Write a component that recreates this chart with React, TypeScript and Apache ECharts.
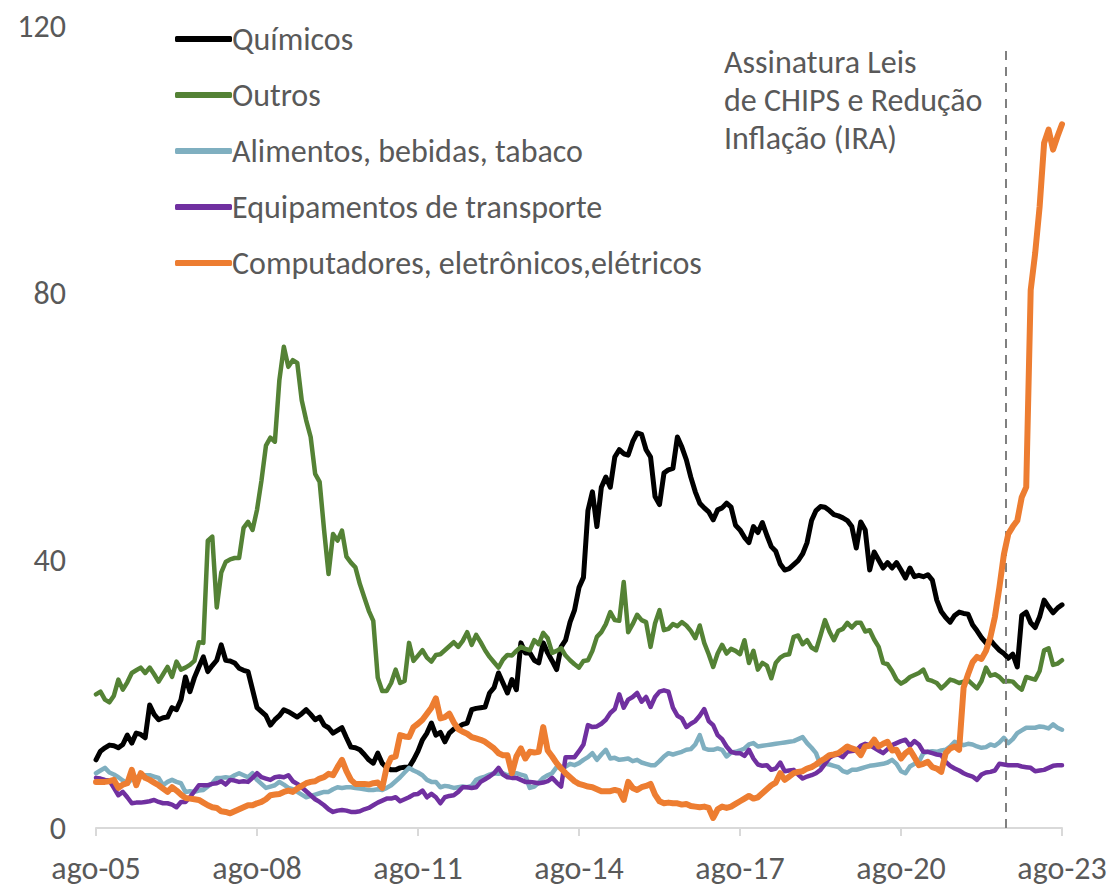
import React, { useEffect, useRef } from "react";
import * as echarts from "echarts";

// Month index 0 = ago-05 ... 216 = ago-23 (monthly)
const tickLabels = ["ago-05", "ago-08", "ago-11", "ago-14", "ago-17", "ago-20", "ago-23"];
const seriesNames = [
  "Químicos",
  "Outros",
  "Alimentos, bebidas, tabaco",
  "Equipamentos de transporte",
  "Computadores, eletrônicos,elétricos",
];

const quimicos = [
  10.2, 11.5, 12.0, 12.4, 12.3, 12.0, 12.5, 13.9, 12.7, 14.2, 14.0, 13.5,
  18.4, 17.0, 16.2, 16.5, 16.6, 18.0, 17.7, 19.2, 22.6, 20.4, 22.5, 24.1,
  25.6, 23.4, 24.3, 25.1, 27.4, 25.1, 25.0, 24.7, 23.9, 23.6, 23.4, 20.7,
  18.0, 17.4, 16.8, 15.4, 16.2, 16.8, 17.7, 17.4, 17.0, 16.6, 17.1, 17.7,
  17.0, 16.2, 16.6, 15.4, 15.0, 14.2, 14.6, 15.0, 13.5, 12.1, 12.0, 11.7,
  11.0, 10.2, 9.7, 11.2, 9.7, 9.0, 8.7, 8.7, 9.0, 9.1, 9.1, 10.2,
  11.5, 13.2, 14.2, 15.7, 13.9, 14.3, 12.9, 14.2, 14.8, 15.1, 15.5, 15.7,
  17.7, 17.9, 18.0, 18.1, 20.2, 21.0, 23.2, 21.7, 20.2, 22.2, 20.7, 27.7,
  26.2, 26.2, 25.1, 24.7, 27.7, 26.2, 25.0, 23.7, 27.1, 28.1, 30.8, 32.6,
  36.0, 37.5, 47.5, 50.3, 45.1, 51.0, 52.5, 51.0, 55.5, 56.6, 56.0, 55.8,
  57.8, 59.1, 58.9, 56.6, 55.5, 49.6, 48.4, 53.1, 53.6, 53.8, 58.5, 57.0,
  55.1, 52.5, 50.3, 48.6, 47.9, 47.3, 46.1, 47.6, 47.9, 48.6, 48.0, 45.3,
  44.6, 43.5, 42.7, 45.1, 44.2, 45.7, 43.8, 42.1, 41.4, 39.5, 38.6, 38.8,
  39.4, 40.0, 41.0, 42.7, 46.0, 47.5, 48.1, 48.0, 47.5, 46.9, 46.7, 46.4,
  46.0, 45.1, 41.9, 45.8, 44.6, 38.6, 41.3, 40.1, 38.9, 39.7, 38.9, 39.7,
  38.6, 37.4, 38.9, 37.6, 37.8, 37.6, 37.9, 37.1, 34.1, 32.4, 31.5, 30.8,
  31.8, 32.3, 32.1, 32.0, 30.4, 29.5, 28.5, 27.7, 28.1, 27.3, 26.6, 26.1,
  25.4, 26.0, 24.1, 31.8, 32.3, 30.7, 30.0, 31.6, 34.1, 33.1, 32.2, 32.9,
  33.4,
];

const outros = [
  20.0, 20.4, 19.2, 18.8, 19.8, 22.2, 20.7, 21.8, 23.2, 23.6, 24.0, 23.2,
  24.0, 23.0, 21.9, 23.0, 24.1, 22.6, 24.9, 23.7, 24.0, 24.4, 25.0, 27.8,
  27.7, 43.0, 43.6, 33.0, 38.2, 39.8, 40.2, 40.4, 40.4, 44.9, 45.8, 44.6,
  47.6, 52.0, 57.2, 58.4, 57.8, 67.0, 72.0, 69.0, 70.0, 69.6, 64.0, 61.0,
  58.5, 53.0, 51.8, 44.6, 38.0, 44.0, 43.0, 44.5, 40.6, 39.7, 39.0, 36.5,
  34.5, 32.5, 31.0, 22.5, 20.5, 20.5, 21.7, 23.7, 21.7, 22.0, 27.7, 25.0,
  25.8, 26.6, 25.5, 24.9, 25.9, 26.0, 26.6, 27.2, 27.8, 27.1, 28.0, 29.3,
  27.4, 28.9, 27.8, 26.6, 25.6, 24.8, 24.0, 25.2, 25.9, 25.8, 26.5, 27.1,
  26.8, 26.6, 28.1, 27.5, 29.2, 28.4, 26.2, 26.5, 26.9, 25.8, 25.1, 24.5,
  24.0, 25.0, 25.1, 26.5, 28.6, 29.3, 30.5, 32.3, 31.1, 31.0, 36.8, 29.3,
  30.5, 31.9, 31.1, 30.8, 27.1, 30.6, 32.6, 29.6, 29.8, 30.5, 30.2, 30.8,
  30.3, 29.5, 28.4, 30.3, 27.7, 26.0, 24.1, 26.1, 27.4, 26.1, 26.8, 26.5,
  26.0, 28.1, 24.7, 26.5, 23.7, 24.7, 24.3, 22.4, 24.7, 25.5, 25.9, 26.0,
  28.6, 28.8, 27.5, 28.1, 27.0, 26.6, 28.8, 31.1, 29.4, 28.1, 29.5, 29.8,
  30.7, 30.0, 30.7, 30.7, 29.4, 29.6, 28.2, 27.1, 24.7, 24.5, 23.5, 22.2,
  21.6, 22.0, 22.6, 22.9, 23.2, 23.7, 22.2, 22.0, 21.7, 20.9, 21.5, 22.2,
  22.0, 21.7, 21.9, 22.1, 21.5, 20.9, 22.0, 24.0, 22.8, 23.0, 22.6, 21.9,
  22.0, 21.9, 21.2, 20.7, 22.6, 22.4, 22.2, 23.5, 26.6, 26.9, 24.4, 24.6,
  25.1,
];

const alimentos = [
  8.2, 8.6, 9.0, 8.3, 8.0, 7.6, 7.1, 6.7, 7.3, 7.6, 7.9, 7.9,
  7.9, 7.7, 7.5, 6.4, 6.9, 7.2, 6.9, 6.7, 5.4, 5.5, 5.4, 5.6,
  5.7, 6.2, 6.7, 7.5, 7.5, 7.6, 7.5, 7.9, 8.2, 7.9, 7.6, 8.2,
  7.2, 6.6, 6.0, 6.2, 6.4, 6.9, 6.5, 6.0, 5.8, 5.4, 5.0, 4.6,
  4.8, 5.0, 5.2, 5.4, 5.4, 5.8, 6.1, 6.0, 6.1, 6.1, 6.0, 5.9,
  5.8, 5.7, 5.7, 5.8, 5.7, 6.0, 6.4, 7.0, 7.6, 8.3, 9.0, 8.6,
  8.3, 7.9, 7.2, 6.9, 6.9, 6.1, 6.3, 6.2, 6.0, 6.1, 6.2, 6.1,
  6.3, 7.2, 7.5, 7.7, 8.0, 8.2, 8.1, 8.2, 7.9, 8.0, 8.2, 8.0,
  7.8, 6.0, 6.2, 6.8, 7.5, 7.9, 8.2, 9.1, 9.1, 9.2, 9.6, 9.4,
  9.7, 10.2, 10.6, 11.2, 10.2, 11.0, 11.7, 10.4, 10.5, 10.2, 10.3, 10.4,
  10.0, 10.2, 9.8, 9.6, 9.4, 9.4, 10.0, 10.7, 11.2, 11.0, 11.2, 11.4,
  11.7, 11.8, 12.5, 13.9, 11.9, 11.7, 11.7, 11.9, 11.7, 10.7, 11.3, 11.4,
  11.6, 11.9, 12.5, 12.7, 12.2, 12.3, 12.4, 12.5, 12.6, 12.7, 12.8, 12.9,
  13.0, 13.3, 13.6, 12.7, 12.0, 11.2, 9.4, 9.6, 9.5, 9.3, 9.1, 8.5,
  8.3, 8.7, 8.7, 8.9, 9.1, 9.3, 9.4, 9.5, 9.6, 9.8, 10.2, 9.6,
  8.5, 8.2, 9.2, 9.6, 9.9, 11.2, 11.4, 11.5, 11.4, 11.6, 11.7, 12.2,
  12.9, 12.6, 12.4, 12.6, 12.5, 12.2, 12.0, 12.1, 12.5, 12.3, 12.8, 13.5,
  12.7, 13.3, 14.2, 14.6, 15.0, 15.0, 15.0, 15.2, 15.1, 14.9, 15.5, 15.0,
  14.7,
];

const equipamentos = [
  7.5, 7.4, 7.2, 7.1, 6.0, 4.9, 5.4, 4.6, 3.7, 3.8, 3.8, 3.9,
  4.0, 4.2, 3.9, 3.7, 3.7, 3.5, 3.1, 3.9, 3.9, 4.6, 5.5, 6.4,
  6.4, 6.4, 6.6, 6.7, 7.0, 6.5, 7.2, 7.1, 6.9, 7.0, 6.9, 7.5,
  8.2, 7.6, 7.4, 7.2, 7.6, 7.7, 7.6, 7.9, 7.0, 6.6, 6.1, 5.5,
  4.9, 4.3, 3.9, 3.4, 2.8, 2.4, 2.6, 2.7, 2.6, 2.4, 2.4, 2.5,
  2.8, 3.0, 3.4, 3.8, 4.1, 4.4, 4.4, 4.6, 4.0, 4.3, 4.6, 5.0,
  5.1, 5.6, 4.6, 5.1, 4.6, 3.7, 4.6, 4.8, 4.9, 5.4, 6.1, 6.1,
  6.0, 6.1, 6.9, 7.3, 7.7, 8.2, 9.0, 8.0, 7.6, 7.5, 7.5, 7.2,
  6.9, 6.9, 6.8, 6.7, 6.8, 7.0, 7.5, 6.8, 6.2, 10.6, 10.6, 10.6,
  11.5, 12.5, 15.4, 15.1, 15.2, 15.6, 16.2, 17.2, 17.8, 20.0, 18.0, 19.2,
  19.6, 20.2, 18.9, 19.6, 18.1, 19.6, 20.4, 20.6, 20.4, 18.0, 16.8, 16.4,
  15.1, 15.6, 16.0, 16.8, 17.8, 16.0, 15.4, 13.9, 13.3, 12.2, 11.4, 11.2,
  11.2, 10.8, 11.7, 10.4, 9.5, 9.3, 9.4, 8.7, 8.9, 9.8, 8.5, 8.6,
  8.7, 8.0, 7.4, 7.7, 7.9, 8.2, 8.7, 9.6, 10.5, 10.9, 11.0, 10.6,
  11.4, 11.5, 11.6, 12.3, 12.6, 12.4, 12.0, 11.6, 11.2, 11.8, 12.4, 12.7,
  13.0, 13.2, 12.3, 13.0, 12.5, 11.4, 11.4, 11.2, 11.0, 10.9, 9.9, 9.3,
  8.9, 8.6, 8.2, 7.9, 7.7, 7.2, 8.0, 8.3, 8.4, 8.6, 9.6, 9.5,
  9.4, 9.4, 9.4, 9.2, 9.1, 9.0, 8.5, 8.6, 8.7, 9.0, 9.3, 9.4,
  9.4,
];

const computadores = [
  6.9, 6.9, 6.9, 7.0, 7.2, 6.0, 6.5, 6.7, 8.7, 6.4, 8.2, 7.5,
  7.2, 6.8, 6.4, 5.9, 5.4, 6.1, 5.6, 5.0, 4.5, 4.4, 4.3, 4.2,
  3.8, 3.4, 3.1, 3.0, 2.5, 2.4, 2.2, 2.5, 2.8, 3.1, 3.4, 3.4,
  3.7, 3.9, 4.3, 4.9, 5.0, 5.1, 5.4, 5.6, 5.4, 5.9, 6.3, 6.7,
  6.9, 7.0, 7.4, 7.6, 8.1, 7.9, 9.1, 10.2, 8.5, 7.2, 6.6, 6.6,
  6.6, 6.5, 6.7, 6.8, 6.0, 9.1, 10.5, 10.7, 13.9, 13.7, 13.6, 15.1,
  15.6, 16.2, 17.1, 18.0, 19.4, 16.4, 16.6, 17.1, 15.8, 14.8, 14.4, 14.1,
  13.6, 13.4, 13.2, 12.9, 12.4, 11.9, 11.2, 10.9, 10.9, 8.2, 10.7, 11.9,
  10.4, 11.4, 11.3, 11.4, 15.1, 11.6, 10.7, 9.7, 8.9, 8.2, 7.6, 7.0,
  6.6, 6.4, 6.2, 6.1, 5.8, 5.5, 5.5, 5.5, 5.7, 5.5, 4.2, 6.9,
  6.0, 5.7, 6.1, 6.3, 6.6, 5.0, 4.0, 3.7, 3.8, 3.7, 3.7, 3.5,
  3.6, 3.3, 3.2, 3.1, 3.2, 3.0, 1.5, 2.8, 3.2, 3.0, 3.2, 3.6,
  4.0, 4.4, 4.8, 4.4, 4.6, 5.2, 5.8, 6.4, 6.8, 8.2, 7.2, 7.7,
  8.2, 8.4, 8.5, 8.9, 9.1, 9.5, 10.0, 10.4, 10.9, 11.0, 11.2, 11.7,
  12.2, 11.9, 11.7, 10.9, 12.2, 12.3, 13.2, 12.2, 12.6, 12.9, 11.6, 11.7,
  10.4, 11.2, 11.7, 10.6, 9.4, 9.6, 9.9, 9.1, 8.9, 8.4, 11.2, 11.9,
  12.2, 11.7, 21.0, 23.0, 24.8, 25.6, 25.3, 26.5, 28.6, 31.6, 36.0, 40.9,
  44.0, 45.1, 46.0, 49.5, 51.0, 80.5, 86.0, 93.0, 102.5, 104.5, 101.5, 103.5,
  105.3,
];

const seriesValues = [quimicos, outros, alimentos, equipamentos, computadores];
const seriesColors = ["#000000", "#548235", "#7FAFC0", "#7030A0", "#ED7D31"];
const seriesWidths = [5, 4.5, 4.5, 4.5, 6];

const chipsMonth = 203.5;
const annotationText = "Assinatura Leis\nde CHIPS e Redução\nInflação (IRA)";

const FONT = "Carlito, Lato, 'Open Sans', sans-serif";
const TEXT_COLOR = "#595959";
const FS = 32;

export default function App() {
  const ref = useRef<HTMLDivElement>(null);

  useEffect(() => {
    document.body.style.margin = "0";
    if (!ref.current) return;
    const chart = echarts.init(ref.current, undefined, { renderer: "svg" });

    const series: any[] = seriesNames.map((name, i) => ({
      name,
      type: "line",
      data: seriesValues[i].map((v, m) => [m, v]),
      symbol: "none",
      showSymbol: false,
      lineStyle: { color: seriesColors[i], width: seriesWidths[i], cap: "round", join: "round" },
      itemStyle: { color: seriesColors[i] },
      z: 2 + i,
    }));

    series[0].markLine = {
      silent: true,
      symbol: "none",
      label: { show: false },
      lineStyle: { color: "#808080", width: 2, type: [9, 7] },
      data: [[{ coord: [chipsMonth, 0] }, { coord: [chipsMonth, 117.2] }]],
    };

    chart.setOption({
      animation: false,
      backgroundColor: "#ffffff",
      textStyle: { fontFamily: FONT },
      grid: { left: 96, right: 48, top: 26, bottom: 59, containLabel: false },
      legend: {
        orient: "vertical",
        left: 170,
        top: 18,
        itemWidth: 57,
        itemHeight: 6,
        itemGap: 24,
        icon: "roundRect",
        selectedMode: false,
        data: seriesNames,
        textStyle: { color: TEXT_COLOR, fontSize: FS, fontFamily: FONT, lineHeight: 32, padding: [0, 0, 0, -5] },
      },
      xAxis: {
        type: "value",
        min: 0,
        max: 216,
        interval: 36,
        offset: 3,
        splitLine: { show: false },
        axisLine: { show: true, lineStyle: { color: "#D9D9D9", width: 2 } },
        axisTick: { show: true, length: 8, lineStyle: { color: "#D9D9D9", width: 2 } },
        axisLabel: {
          color: TEXT_COLOR,
          fontSize: FS,
          fontFamily: FONT,
          lineHeight: 32,
          margin: 21,
          formatter: (v: number) => tickLabels[Math.round(v / 36)] ?? "",
        },
      },
      yAxis: {
        type: "value",
        min: 0,
        max: 120,
        interval: 40,
        splitLine: { show: false },
        axisLine: { show: false },
        axisTick: { show: false },
        axisLabel: { color: TEXT_COLOR, fontSize: FS, fontFamily: FONT, margin: 30 },
      },
      graphic: [
        {
          type: "text",
          left: 724,
          top: 43,
          silent: true,
          style: {
            text: annotationText,
            fill: TEXT_COLOR,
            fontSize: FS,
            fontFamily: FONT,
            lineHeight: 38,
          },
        },
      ],
      series,
    });

    return () => chart.dispose();
  }, []);

  return <div ref={ref} style={{ width: 1110, height: 887 }} />;
}
